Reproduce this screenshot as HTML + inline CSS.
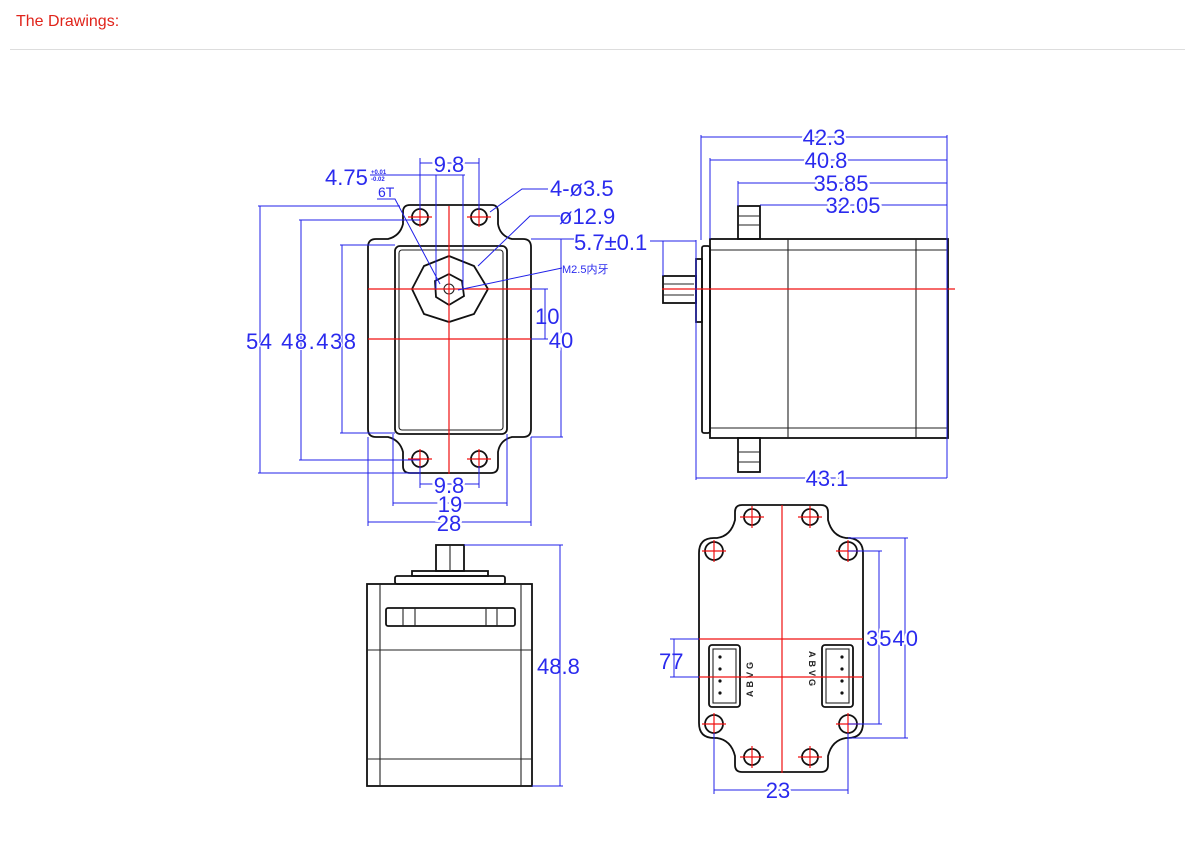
<!DOCTYPE html>
<html><head><meta charset="utf-8">
<style>
html,body{margin:0;padding:0;background:#fff;}
body{width:1200px;height:842px;overflow:hidden;position:relative;font-family:"Liberation Sans",sans-serif;}
.hd{position:absolute;left:16px;top:13px;color:#e0241b;font-size:16px;}
.rule{position:absolute;left:10px;top:49px;width:1175px;height:1px;background:#ddd;}
svg{position:absolute;left:0;top:0;}
.k{fill:none;stroke:#111;stroke-width:1.8}
.k2{fill:none;stroke:#222;stroke-width:1.1}
.r{stroke:#f01010;stroke-width:1.2;fill:none}
.b{stroke:#2020e8;stroke-width:1;fill:none}
.t{fill:#2a2aee;font-family:"Liberation Sans",sans-serif;font-size:22px}
.c{text-anchor:middle;paint-order:stroke;stroke:#fff;stroke-width:5px}
.ts{fill:#2a2aee;font-family:"Liberation Sans","Noto Sans CJK SC",sans-serif;font-size:11px}
.cn{fill:#222;font-family:"Liberation Sans",sans-serif;font-size:9px;font-weight:bold}
</style></head><body>
<div class="hd">The Drawings:</div>
<div class="rule"></div>
<svg width="1200" height="842" viewBox="0 0 1200 842">
<!-- ===== FRONT VIEW ===== -->
<path class="k" d="M410,205 H492 Q498,205 498,212 V224 Q500,236 512,239 H523 Q531,239 531,247 V429 Q531,437 523,437 H512 Q500,440 498,452 V466 Q498,473 491,473 H410 Q403,473 403,466 V452 Q400,440 388,437 H376 Q368,437 368,429 V247 Q368,239 376,239 H388 Q400,236 403,224 V212 Q403,205 410,205 Z"/>
<rect class="k" x="395" y="246" width="112" height="188" rx="5"/>
<rect class="k2" x="399" y="250" width="104" height="180" rx="3"/>
<circle class="k" cx="420" cy="217" r="8"/><circle class="k" cx="479" cy="217" r="8"/>
<circle class="k" cx="420" cy="459" r="8"/><circle class="k" cx="479" cy="459" r="8"/>
<polygon class="k" points="449,256 474,266 488,289 474,314 449,322 424,314 412,289 424,266"/>
<polygon class="k" points="449,274 462,281 464,296 449,305 436,297 435,281"/>
<circle class="k2" cx="449" cy="289" r="5"/>
<line class="r" x1="449" y1="206" x2="449" y2="474"/>
<line class="r" x1="368" y1="289" x2="531" y2="289"/>
<line class="r" x1="368" y1="339" x2="531" y2="339"/>
<line class="r" x1="408" y1="217" x2="432" y2="217"/><line class="r" x1="420" y1="207" x2="420" y2="227"/>
<line class="r" x1="467" y1="217" x2="491" y2="217"/><line class="r" x1="479" y1="207" x2="479" y2="227"/>
<line class="r" x1="408" y1="459" x2="432" y2="459"/><line class="r" x1="420" y1="449" x2="420" y2="469"/>
<line class="r" x1="467" y1="459" x2="491" y2="459"/><line class="r" x1="479" y1="449" x2="479" y2="469"/>
<path class="b" d="M258,206 H400 M260,206 V473 M258,473 H420"/>
<path class="b" d="M299,220 H420 M301,220 V460 M299,460 H420"/>
<path class="b" d="M340,245 H395 M342,245 V433 M340,433 H395"/>
<text class="t" x="246" y="349" textLength="110" style="paint-order:stroke;stroke:#fff;stroke-width:2px">54 48.438</text>
<path class="b" d="M531,239 H563 M561,239 V437 M531,437 H563"/>
<path class="b" d="M531,289 H548 M545,289 V339 M531,339 H548"/>
<text class="t" x="535" y="324">10</text>
<text class="t c" x="561" y="348">40</text>
<path class="b" d="M420,158 V210 M479,158 V210 M420,163 H479"/>
<text class="t c" x="449" y="172">9.8</text>
<path class="b" d="M370,175 H465 M436,175 V289 M463,175 V289"/>
<text class="t" x="325" y="185">4.75</text>
<text class="ts" x="371" y="174" style="font-size:6px;font-weight:bold">+0.01</text>
<text class="ts" x="371" y="181" style="font-size:6px;font-weight:bold">-0.02</text>
<text class="ts" x="378" y="197" style="font-size:14px">6T</text>
<path class="b" d="M377,199 H395 L440,284"/>
<path class="b" d="M548,189 H522 L490,212"/><text class="t" x="550" y="196">4-ø3.5</text>
<path class="b" d="M560,216 H530 L478,266"/><text class="t" x="559" y="224">ø12.9</text>
<path class="b" d="M531,239 H574"/>
<text class="t" x="574" y="250">5.7±0.1</text>
<path class="b" d="M650,241 H663"/>
<path class="b" d="M562,268 L458,290"/><text class="ts" x="562" y="273">M2.5内牙</text>
<path class="b" d="M420,466 V488 M479,466 V488 M420,484 H479"/><text class="t c" x="449" y="493">9.8</text>
<path class="b" d="M393,434 V506 M507,434 V506 M393,503 H507"/><text class="t c" x="450" y="512">19</text>
<path class="b" d="M368,437 V526 M531,437 V526 M368,522 H531"/><text class="t c" x="449" y="531">28</text>

<!-- ===== SIDE VIEW ===== -->
<rect class="k" x="710" y="239" width="238" height="199"/>
<line class="k2" x1="710" y1="250" x2="948" y2="250"/><line class="k2" x1="710" y1="428" x2="948" y2="428"/>
<line class="k2" x1="788" y1="239" x2="788" y2="438"/><line class="k2" x1="916" y1="239" x2="916" y2="438"/>
<rect class="k" x="702" y="246" width="8" height="187" rx="2"/>
<rect class="k" x="696" y="259" width="6" height="63"/>
<rect class="k" x="663" y="276" width="33" height="27"/>
<line class="k2" x1="663" y1="284" x2="694" y2="284"/><line class="k2" x1="663" y1="295" x2="694" y2="295"/>
<rect class="k" x="738" y="206" width="22" height="33"/>
<line class="k2" x1="738" y1="216" x2="760" y2="216"/><line class="k2" x1="738" y1="225" x2="760" y2="225"/>
<rect class="k" x="738" y="438" width="22" height="34"/>
<line class="k2" x1="738" y1="452" x2="760" y2="452"/><line class="k2" x1="738" y1="462" x2="760" y2="462"/>
<line class="r" x1="662" y1="289" x2="955" y2="289"/>
<path class="b" d="M701,135 V240 M947,135 V478 M701,137 H947"/>
<path class="b" d="M710,158 V239 M710,160 H947"/>
<path class="b" d="M738,181 V206 M738,183 H947"/>
<path class="b" d="M760,205 H947"/>
<text class="t c" x="824" y="145">42.3</text>
<text class="t c" x="826" y="168">40.8</text>
<text class="t c" x="841" y="191">35.85</text>
<text class="t c" x="853" y="213">32.05</text>
<path class="b" d="M696,240 V480 M696,478 H947"/>
<text class="t c" x="827" y="486">43.1</text>
<path class="b" d="M663,241 V276 M696,241 H663"/>

<!-- ===== REAR VIEW ===== -->
<rect class="k" x="367" y="584" width="165" height="202"/>
<line class="k2" x1="380" y1="584" x2="380" y2="786"/><line class="k2" x1="521" y1="584" x2="521" y2="786"/>
<line class="k2" x1="367" y1="650" x2="532" y2="650"/><line class="k2" x1="367" y1="759" x2="532" y2="759"/>
<rect class="k" x="395" y="576" width="110" height="8" rx="2"/>
<rect class="k" x="412" y="571" width="76" height="5"/>
<rect class="k" x="436" y="545" width="28" height="26"/>
<line class="k2" x1="450" y1="545" x2="450" y2="571"/>
<rect class="k" x="386" y="608" width="129" height="18" rx="2"/>
<line class="k2" x1="403" y1="608" x2="403" y2="626"/><line class="k2" x1="415" y1="608" x2="415" y2="626"/>
<line class="k2" x1="486" y1="608" x2="486" y2="626"/><line class="k2" x1="497" y1="608" x2="497" y2="626"/>
<path class="b" d="M464,545 H563 M560,545 V786 M532,786 H563"/>
<text class="t" x="537" y="674">48.8</text>

<!-- ===== CONNECTOR VIEW ===== -->
<path class="k" d="M742,505 H821 Q828,505 828,512 V520 Q832,536 846,538 H850 Q863,540 863,553 V723 Q863,738 848,738 H846 Q832,740 828,756 V765 Q828,772 821,772 H742 Q735,772 735,765 V756 Q731,740 717,738 H714 Q699,738 699,723 V553 Q699,538 714,538 H717 Q731,536 735,520 V512 Q735,505 742,505 Z"/>
<circle class="k" cx="752" cy="517" r="8"/><circle class="k" cx="810" cy="517" r="8"/>
<circle class="k" cx="752" cy="757" r="8"/><circle class="k" cx="810" cy="757" r="8"/>
<circle class="k" cx="714" cy="551" r="9"/><circle class="k" cx="848" cy="551" r="9"/>
<circle class="k" cx="714" cy="724" r="9"/><circle class="k" cx="848" cy="724" r="9"/>
<rect class="k" x="709" y="645" width="31" height="62" rx="3"/><rect class="k2" x="713" y="649" width="23" height="54"/>
<rect class="k" x="822" y="645" width="31" height="62" rx="3"/><rect class="k2" x="826" y="649" width="23" height="54"/>
<g fill="#111"><circle cx="720" cy="657" r="1.6"/><circle cx="720" cy="669" r="1.6"/><circle cx="720" cy="681" r="1.6"/><circle cx="720" cy="693" r="1.6"/>
<circle cx="842" cy="657" r="1.6"/><circle cx="842" cy="669" r="1.6"/><circle cx="842" cy="681" r="1.6"/><circle cx="842" cy="693" r="1.6"/></g>
<text class="cn" transform="translate(753,697) rotate(-90)" letter-spacing="3">ABVG</text>
<text class="cn" transform="translate(809,651) rotate(90)" letter-spacing="3">ABVG</text>
<line class="r" x1="782" y1="505" x2="782" y2="773"/>
<line class="r" x1="699" y1="639" x2="863" y2="639"/><line class="r" x1="699" y1="677" x2="863" y2="677"/>
<g class="r"><path d="M740,517 H764 M752,506 V528 M798,517 H822 M810,506 V528 M740,757 H764 M752,746 V768 M798,757 H822 M810,746 V768 M702,551 H726 M714,540 V562 M836,551 H860 M848,540 V562 M702,724 H726 M714,713 V735 M836,724 H860 M848,713 V735"/></g>
<path class="b" d="M848,538 H908 M905,538 V738 M848,738 H908"/>
<path class="b" d="M848,551 H882 M879,551 V724 M848,724 H882"/>
<text class="t" x="866" y="646" textLength="52" style="paint-order:stroke;stroke:#fff;stroke-width:4px">3540</text>
<path class="b" d="M670,639 H699 M670,677 H699 M674,639 V677"/>
<text class="t" x="659" y="669">77</text>
<path class="b" d="M714,733 V794 M848,733 V794 M714,790 H848"/>
<text class="t c" x="778" y="798">23</text>
</svg>
</body></html>
